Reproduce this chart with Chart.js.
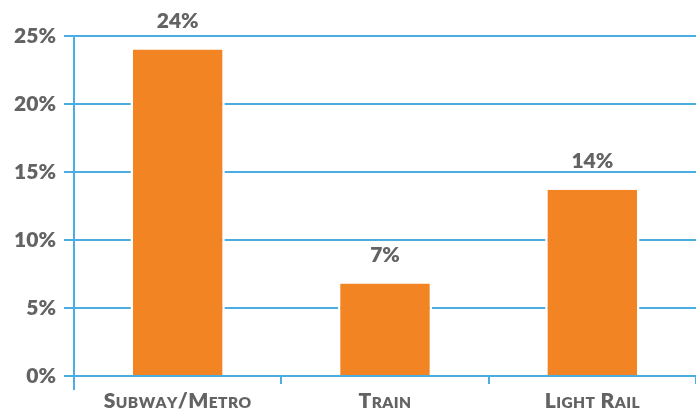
<!DOCTYPE html>
<html>
<head>
<meta charset="utf-8">
<script src="https://cdn.jsdelivr.net/npm/chart.js@4"></script>
<style>
  html, body { margin: 0; padding: 0; background: #fff; }
  #wrap { width: 696px; height: 409px; }
</style>
</head>
<body>
<div id="wrap"><canvas id="chart"></canvas></div>
<script>
const categories = ["Subway/Metro", "Train", "Light Rail"];
const shares = [24, 6.8, 13.7];
const yTicks = [0, 5, 10, 15, 20, 25];

const BLUE = "#4aaee3";
const ORANGE = "#f38423";
const GREY = "#636363";
const FONT = "Lato, 'Open Sans', sans-serif";
const WEIGHT = 800;

// draws text in small caps: capitals at full size, the rest as smaller capitals
function smallCaps(ctx, text, cx, y, big, small) {
  const parts = [...text].map((ch) => {
    const up = ch !== ch.toLowerCase() || !/[a-z]/i.test(ch);
    const size = up ? big : small;
    ctx.font = `${WEIGHT} ${size}px ${FONT}`;
    const t = ch.toUpperCase();
    return { t, size, w: ctx.measureText(t).width };
  });
  const total = parts.reduce((s, p) => s + p.w + 0.4, 0);
  let x = cx - total / 2;
  parts.forEach((p) => {
    ctx.font = `${WEIGHT} ${p.size}px ${FONT}`;
    ctx.fillText(p.t, x, y);
    x += p.w + 0.4;
  });
}

const decorations = {
  id: "decorations",
  afterDatasetsDraw(chart) {
    const ctx = chart.ctx;
    const area = chart.chartArea;
    const xScale = chart.scales.x;
    const meta = chart.getDatasetMeta(0);
    ctx.save();

    // y axis runs a little below the category axis
    ctx.strokeStyle = BLUE;
    ctx.lineWidth = 2;
    ctx.beginPath();
    ctx.moveTo(area.left, area.bottom);
    ctx.lineTo(area.left, area.bottom + 14);
    ctx.stroke();

    ctx.fillStyle = GREY;
    ctx.textBaseline = "alphabetic";

    // value labels above bars
    ctx.textAlign = "center";
    ctx.font = `${WEIGHT} 21px ${FONT}`;
    meta.data.forEach((bar, i) => {
      ctx.fillText(Math.round(shares[i]) + "%", bar.x, bar.y - 22);
    });

    // category labels
    ctx.textAlign = "left";
    categories.forEach((c, i) => {
      smallCaps(ctx, c, xScale.getPixelForValue(i), area.bottom + 32, 21, 15.5);
    });
    ctx.restore();
  },
};

new Chart(document.getElementById("chart"), {
  type: "bar",
  data: {
    labels: categories,
    datasets: [
      {
        data: shares,
        backgroundColor: ORANGE,
        borderColor: "#ffffff",
        borderWidth: { top: 0, left: 2.5, right: 2.5, bottom: 0 },
        categoryPercentage: 1,
        barPercentage: 0.455,
      },
    ],
  },
  options: {
    animation: false,
    responsive: true,
    maintainAspectRatio: false,
    layout: { padding: { top: 36, right: 0, left: 0, bottom: 0 } },
    plugins: {
      legend: { display: false },
      tooltip: { enabled: false },
    },
    scales: {
      x: {
        afterFit: (s) => { s.height = 33; },
        grid: {
          drawOnChartArea: false,
          color: BLUE,
          lineWidth: 2,
          tickLength: 8,
        },
        border: { color: BLUE, width: 2, z: 1 },
        ticks: { color: "rgba(0,0,0,0)", font: { size: 12 } },
      },
      y: {
        min: 0,
        max: 25,
        afterFit: (s) => { s.width = 74; },
        afterBuildTicks: (s) => { s.ticks = yTicks.map((v) => ({ value: v })); },
        grid: {
          color: BLUE,
          lineWidth: 2,
          tickLength: 10,
        },
        border: { color: BLUE, width: 2 },
        ticks: {
          color: GREY,
          padding: 8,
          font: { family: FONT, size: 21, weight: WEIGHT },
          callback: (v) => v + "%",
        },
      },
    },
  },
  plugins: [decorations],
});
</script>
</body>
</html>
